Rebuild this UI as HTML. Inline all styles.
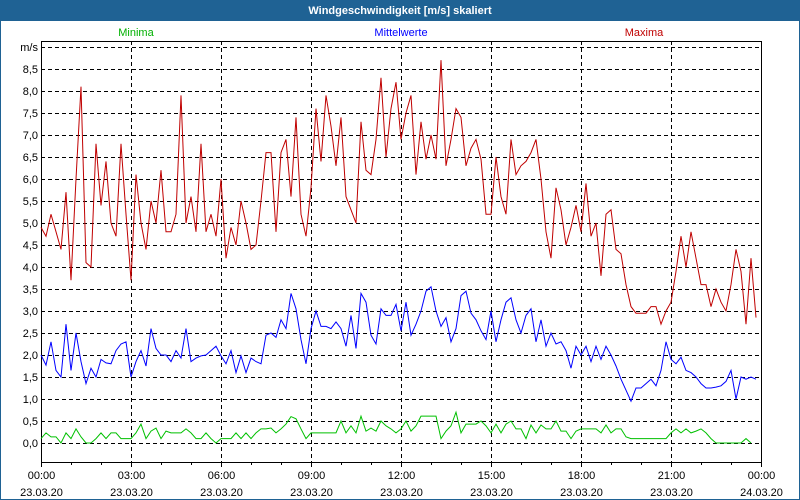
<!DOCTYPE html>
<html><head><meta charset="utf-8"><style>
body{margin:0;background:#fff}
#wrap{position:relative;width:798px;height:498px;border:1px solid #1f6294;background:#fff;overflow:hidden;font-family:"Liberation Sans",sans-serif}
#title{position:absolute;left:0;top:0;width:798px;height:20px;background:#1f6294;color:#fff;font-weight:bold;font-size:11px;text-align:center;line-height:20px}
</style></head><body>
<div id="wrap">
<div id="title">Windgeschwindigkeit [m/s] skaliert</div>
<svg id="chart" width="798" height="478" style="position:absolute;left:0;top:20px"></svg>
</div>
<script>
const timeLabels=["00:00","03:00","06:00","09:00","12:00","15:00","18:00","21:00","00:00"];
const dateLabels=["23.03.20","23.03.20","23.03.20","23.03.20","23.03.20","23.03.20","23.03.20","23.03.20","24.03.20"];
const yTicks=["0,0","0,5","1,0","1,5","2,0","2,5","3,0","3,5","4,0","4,5","5,0","5,5","6,0","6,5","7,0","7,5","8,0","8,5","m/s"];
const maxima=[4.9,4.7,5.2,4.8,4.4,5.7,3.7,6.0,8.1,4.1,4.0,6.8,5.4,6.4,5.0,4.7,6.8,5.2,3.7,6.1,5.0,4.4,5.5,5.0,6.2,4.8,4.8,5.2,7.9,5.0,5.6,4.8,6.8,4.8,5.2,4.7,6.0,4.2,4.9,4.5,5.5,5.0,4.4,4.5,5.5,6.6,6.6,4.8,6.6,6.9,5.6,7.4,5.2,4.7,5.8,7.6,6.4,7.9,7.2,6.3,7.4,5.6,5.3,5.0,7.3,6.2,6.1,6.9,8.3,6.5,7.6,8.2,6.9,7.5,7.9,6.1,7.3,6.45,7.0,6.45,8.7,6.3,6.9,7.6,7.4,6.3,6.7,6.9,6.45,5.2,5.2,6.5,5.6,5.2,6.9,6.1,6.3,6.4,6.6,6.9,6.0,4.8,4.2,5.8,5.3,4.5,4.9,5.4,4.8,5.9,4.7,5.0,3.8,5.2,5.3,4.4,4.3,3.6,3.1,2.95,2.95,2.95,3.1,3.1,2.7,3.0,3.2,3.9,4.7,4.0,4.8,4.2,3.6,3.6,3.1,3.5,3.2,3.0,3.6,4.4,3.9,2.7,4.2,2.85];
const mittel=[2.0,1.77,2.3,1.65,1.5,2.7,1.65,2.5,1.85,1.35,1.7,1.5,1.9,1.82,1.8,2.1,2.25,2.3,1.5,1.85,2.1,1.75,2.6,2.15,2.0,2.0,1.85,2.1,1.93,2.6,1.85,1.93,1.98,2.0,2.1,2.2,1.98,1.8,2.1,1.6,1.98,1.6,1.93,1.85,1.8,2.45,2.5,2.4,2.8,2.6,3.4,3.05,2.35,1.8,2.6,3.0,2.65,2.65,2.6,2.75,2.6,2.2,2.9,2.15,3.4,3.2,2.45,2.25,3.05,2.9,2.9,3.15,2.55,3.2,2.45,2.7,3.0,3.45,3.55,3.0,2.65,2.85,2.3,2.6,3.35,3.45,2.95,2.8,2.55,2.35,3.0,2.3,2.8,3.2,3.3,2.8,2.5,2.9,3.05,2.3,2.8,2.2,2.5,2.25,2.3,2.1,1.7,2.2,2.0,2.2,1.85,2.2,1.9,2.2,2.0,1.75,1.45,1.2,0.95,1.25,1.25,1.35,1.45,1.3,1.65,2.3,1.9,1.8,1.95,1.65,1.6,1.5,1.35,1.25,1.25,1.27,1.3,1.4,1.65,1.0,1.5,1.45,1.5,1.45];
const minima=[.1,.23,.14,.14,0,.23,.1,.32,.14,0,0,.1,.23,.1,.23,.23,.1,.1,.1,.23,.43,.1,.27,.34,.1,.27,.23,.23,.23,.32,.23,.1,.1,.23,.1,0,.1,.1,.1,.23,.1,.23,.1,.23,.32,.32,.34,.23,.32,.43,.6,.55,.32,.1,.23,.23,.23,.23,.23,.23,.5,.23,.39,.23,.61,.27,.34,.27,.5,.39,.32,.23,.32,.5,.27,.39,.61,.61,.61,.61,.1,.27,.39,.7,.23,.43,.43,.43,.5,.39,.23,.43,.23,.43,.5,.32,.32,.1,.41,.23,.41,.32,.32,.5,.27,.27,.1,.27,.32,.32,.32,.32,.23,.41,.23,.32,.32,.14,.1,.1,.1,.1,.1,.1,.1,.1,.23,.32,.23,.32,.23,.27,.32,.23,.1,0,0,0,0,0,0,.1,0];
const svg=document.getElementById('chart');
const NS='http://www.w3.org/2000/svg';
const OY=-20;
const L=40,R=760,T=40+OY,B=461+OY;
function xs(i){return L+i*5;}
function xh(h){return L+h*30;}
function ys(v){return 442+OY-v*44;}
function mk(tag,attrs,parent){const e=document.createElementNS(NS,tag);for(const k in attrs)e.setAttribute(k,attrs[k]);(parent||svg).appendChild(e);return e;}
// grid horizontal
for(let k=0;k<yTicks.length;k++){
  const y=ys(k*0.5)+0.5;
  const g=mk('line',{x1:L,x2:R,y1:y,y2:y,stroke:'#000','stroke-dasharray':'4,3','stroke-width':1});
  
  
  const t=mk('text',{x:37,y:ys(k*0.5)+4,'text-anchor':'end','font-size':11,fill:'#000'});
  t.textContent=yTicks[k];
  
  
}
for(let k=0;k<timeLabels.length;k++){
  const x=xh(k*3)+0.5;
  if(k>0&&k<timeLabels.length-1){
    const g=mk('line',{x1:x,x2:x,y1:T,y2:B,stroke:'#000','stroke-dasharray':'4,3'});
    
    
  }
  const tk=mk('line',{x1:x,x2:x,y1:B,y2:B+5,stroke:'#000'});
  
  
  const t=mk('text',{x:x,y:B+17,'text-anchor':'middle','font-size':11,fill:'#000'});
  t.textContent=timeLabels[k];
  
  
  const d=mk('text',{x:x,y:B+34,'text-anchor':'middle','font-size':11,fill:'#000'});
  d.textContent=dateLabels[k];
  
  
}
for(let h=0;h<=24;h++){ if(h%3===0)continue;
  const x=xh(h)+0.5;
  const tk=mk('line',{x1:x,x2:x,y1:B,y2:B+3,stroke:'#000'});
  
  
}
const frame=mk('rect',{x:L+0.5,y:T+0.5,width:R-L,height:B-T,fill:'none',stroke:'#000'});


function series(arr,color,name){
  const p=mk('polyline',{points:arr.map((v,i)=>xs(i)+','+ys(v)).join(' '),fill:'none',stroke:color,'stroke-width':1});
  
  
}
series(maxima,'#c00000','series-maxima');
series(mittel,'#0000ff','series-mittelwerte');
series(minima,'#00c000','series-minima');
const leg=[["Minima",135,'#00b000','legend-minima'],["Mittelwerte",400,'#0000ff','legend-mittelwerte'],["Maxima",643,'#c00000','legend-maxima']];
for(const l of leg){
  const t=mk('text',{x:l[1],y:35+OY,'text-anchor':'middle','font-size':11,fill:l[2]});
  t.textContent=l[0];
  
  
}
</script>
</body></html>
